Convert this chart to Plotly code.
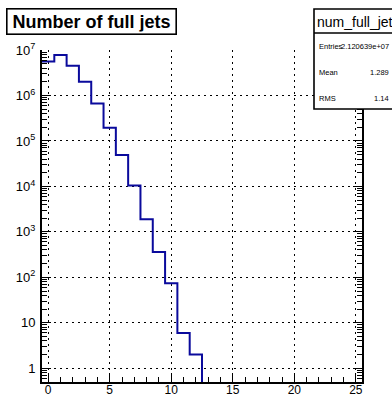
import math
import plotly.graph_objects as go

# Number of full jets per event: integer bins centred on 0..12
bin_centers = [0, 1, 2, 3, 4, 5, 6, 7, 8, 9, 10, 11, 12]
bin_counts = [5.6e6, 7.8e6, 4.5e6, 2.0e6, 6.7e5, 1.95e5, 4.9e4, 1.05e4, 1.9e3, 360, 74, 6, 2]

x_tick_vals = [0, 5, 10, 15, 20, 25]
x_tick_text = ["0", "5", "10", "15", "20", "25"]
y_tick_vals = [1, 10, 1e2, 1e3, 1e4, 1e5, 1e6, 1e7]
y_tick_text = ["1", "10", "10<sup>2</sup>", "10<sup>3</sup>", "10<sup>4</sup>",
               "10<sup>5</sup>", "10<sup>6</sup>", "10<sup>7</sup>"]

hist_name = "num_full_jet"
hist_title = "Number of full jets"
stat_labels = ["Entries", "Mean", "RMS"]
stat_values = ["2.120639e+07", "1.289", "1.14"]

X_MIN, X_MAX = -0.5, 25.5
Y_MIN, Y_MAX = 0.5, 1e7

W, H = 392, 398
ML, MR, MT, MB = 42, 30, 50, 16
PW, PH = W - ML - MR, H - MT - MB

FONT = "Liberation Sans, Arial, Helvetica, sans-serif"
LINE_BLUE = "#0a0a9c"


def px(xpix):
    return (xpix - ML) / PW


def py(ypix):
    return (H - MB - ypix) / PH


# step outline: left edges of each bin, then close at the last edge and drop to the floor
edges = [c - 0.5 for c in bin_centers] + [bin_centers[-1] + 0.5]
step_x = edges + [edges[-1]]
step_y = bin_counts + [bin_counts[-1], Y_MIN]

fig = go.Figure()
fig.add_trace(go.Scatter(
    x=step_x, y=step_y, mode="lines",
    line=dict(color=LINE_BLUE, width=2, shape="hv"),
    hoverinfo="skip", showlegend=False,
))

minor_y = []
for d in range(-1, 7):
    for k in range(2, 10):
        v = k * 10 ** d
        if Y_MIN <= v <= Y_MAX:
            minor_y.append(v)
minor_y.append(0.5)

grid_dash = "2px,4px"

fig.update_xaxes(
    range=[X_MIN, X_MAX], automargin=False,
    tickmode="array", tickvals=x_tick_vals, ticktext=x_tick_text,
    ticks="inside", ticklen=9, tickwidth=1, tickcolor="black",
    showline=True, linecolor="black", linewidth=2,
    showgrid=True, gridcolor="black", gridwidth=1.4, griddash=grid_dash,
    zeroline=False,
    minor=dict(dtick=1, tick0=0, ticks="inside", ticklen=5, tickwidth=1,
               tickcolor="black", showgrid=False),
    tickfont=dict(family=FONT, size=12, color="black"),
    ticklabelstandoff=-4,
)
fig.update_yaxes(
    type="log", automargin=False,
    range=[math.log10(Y_MIN), math.log10(Y_MAX)],
    tickmode="array", tickvals=y_tick_vals, ticktext=y_tick_text,
    ticks="inside", ticklen=9, tickwidth=1, tickcolor="black",
    showline=True, linecolor="black", linewidth=2, mirror="ticks",
    showgrid=True, gridcolor="black", gridwidth=1.4, griddash=grid_dash,
    zeroline=False,
    minor=dict(tickmode="array", tickvals=minor_y, ticks="inside", ticklen=5,
               tickwidth=1, tickcolor="black", showgrid=False),
    tickfont=dict(family=FONT, size=13, color="black"),
    ticklabelstandoff=2,
)

shapes = [
    # statistics box and the rule under its title
    dict(type="rect", xref="paper", yref="paper",
         x0=px(314), x1=px(400), y0=py(109), y1=py(9),
         line=dict(color="black", width=1.6), fillcolor="white", layer="above"),
    dict(type="line", xref="paper", yref="paper",
         x0=px(314), x1=px(400), y0=py(33), y1=py(33),
         line=dict(color="black", width=1.6), layer="above"),
]

annotations = [
    dict(text="<b>" + hist_title + "</b>", xref="paper", yref="paper",
         x=px(6), y=py(8), xanchor="left", yanchor="top",
         showarrow=False, bordercolor="black", borderwidth=1.6, borderpad=2,
         bgcolor="white", width=164, height=20,
         font=dict(family=FONT, size=18, color="black")),
    dict(text=hist_name, xref="paper", yref="paper",
         x=px(315), y=py(22), xanchor="left", yanchor="middle",
         showarrow=False, font=dict(family=FONT, size=14, color="black")),
]
stat_rows = [46, 72, 98]
for lab, val, row in zip(stat_labels, stat_values, stat_rows):
    annotations.append(dict(text=lab, xref="paper", yref="paper",
                            x=px(317), y=py(row), xanchor="left", yanchor="middle",
                            showarrow=False, font=dict(family=FONT, size=7.5, color="black")))
    annotations.append(dict(text=val, xref="paper", yref="paper",
                            x=px(391), y=py(row), xanchor="right", yanchor="middle",
                            showarrow=False, font=dict(family=FONT, size=7.5, color="black")))

fig.update_layout(
    width=W, height=H,
    margin=dict(l=ML, r=MR, t=MT, b=MB),
    paper_bgcolor="white", plot_bgcolor="white",
    shapes=shapes, annotations=annotations,
    font=dict(family=FONT, color="black"),
)

fig.write_html("out.html")
